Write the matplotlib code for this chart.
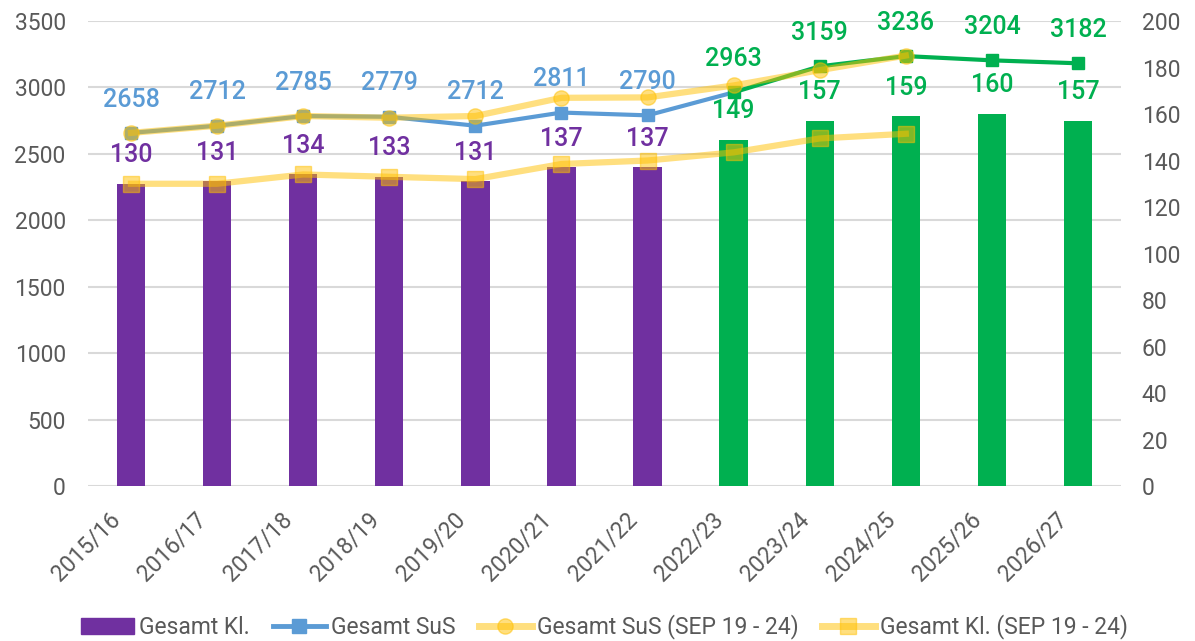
import numpy as np
import matplotlib.pyplot as plt
from matplotlib.patches import Patch
from matplotlib.lines import Line2D
from matplotlib.transforms import ScaledTranslation

plt.rcParams['font.family'] = ['Roboto', 'DejaVu Sans']

jahre = ["2015/16", "2016/17", "2017/18", "2018/19", "2019/20", "2020/21", "2021/22",
         "2022/23", "2023/24", "2024/25", "2025/26", "2026/27"]
klassen = [130, 131, 134, 133, 131, 137, 137, 149, 157, 159, 160, 157]
sus = [2658, 2712, 2785, 2779, 2712, 2811, 2790, 2963, 3159, 3236, 3204, 3182]
# SEP 19 - 24 (bis 2024/25)
sus_sep = [2658, 2712, 2785, 2772, 2785, 2922, 2925, 3015, 3130, 3240]
kl_sep = [130, 130, 134, 133, 132, 138.5, 140, 143.5, 149.5, 151.5]
n_ist = 7  # Ist-Werte bis 2021/22, danach Prognose

lila = "#7030A0"
gruen = "#00B050"
blau = "#5B9BD5"
gelb = "#FFC000"
grau = "#595959"

x = np.arange(len(jahre))

fig = plt.figure(figsize=(11.95, 6.41), dpi=100)
ax = fig.add_axes([0.0736, 0.2418, 0.8645, 0.7254])
ax_kl = ax.twinx()
ax_sus = ax.twinx()

for a in (ax, ax_kl, ax_sus):
    for s in a.spines.values():
        s.set_visible(False)
    a.set_xlim(-0.5, len(jahre) - 0.5)
    a.tick_params(length=0)

# linke Achse / Gitter
ax.set_ylim(0, 3500)
ax.set_yticks(np.arange(0, 3501, 500))
ax.grid(axis='y', color="#D9D9D9", linewidth=1.5)
ax.tick_params(axis='y', labelsize=16.5, labelcolor=grau, pad=16)
ax.set_xticks(x)
ax.set_xticklabels(jahre, rotation=45, ha='right', va='top',
                   fontsize=16.5, color=grau)
ax.tick_params(axis='x', pad=16)
verschieb = ScaledTranslation(-0.06, 0, fig.dpi_scale_trans)
for lbl in ax.get_xticklabels():
    lbl.set_transform(lbl.get_transform() + verschieb)

# rechte Achse: Klassen
ax_kl.set_ylim(0, 200)
ax_kl.set_yticks(np.arange(0, 201, 20))
ax_kl.tick_params(axis='y', labelsize=16.5, labelcolor=grau, pad=15)
farben = [lila] * n_ist + [gruen] * (len(jahre) - n_ist)
bars = ax_kl.bar(x, klassen, width=0.33, color=farben)
labels = ax_kl.bar_label(bars, padding=12, fontsize=18, fontweight='medium', color=lila)
for i, t in enumerate(labels):
    if i >= n_ist:
        t.set_color(gruen)
ax_kl.plot(x[:len(kl_sep)], kl_sep, color=gelb, alpha=0.5, linewidth=4.5,
           marker='s', markersize=11)

# SuS-Linien
ax_sus.set_ylim(0, 3500)
ax_sus.set_yticks([])
ax_sus.plot(x[:n_ist + 1], sus[:n_ist + 1], color=blau, linewidth=3,
            marker='s', markersize=9, markevery=list(range(n_ist)))
ax_sus.plot(x[n_ist:], sus[n_ist:], color=gruen, linewidth=3,
            marker='s', markersize=9)
ax_sus.plot(x[:len(sus_sep)], sus_sep, color=gelb, alpha=0.5, linewidth=4.5,
            marker='o', markersize=11)
for i, v in enumerate(sus):
    ax_sus.annotate(str(v), (x[i], v), xytext=(0, 24), textcoords='offset points',
                    ha='center', va='center', fontsize=18, fontweight='medium',
                    color=blau if i < n_ist else gruen)

handles = [
    Patch(color=lila, label="Gesamt Kl."),
    Line2D([], [], color=blau, linewidth=3.5, marker='s', markersize=10, label="Gesamt SuS"),
    Line2D([], [], color=gelb, alpha=0.5, linewidth=5, marker='o', markersize=11,
           label="Gesamt SuS (SEP 19 - 24)"),
    Line2D([], [], color=gelb, alpha=0.5, linewidth=5, marker='s', markersize=11,
           label="Gesamt Kl. (SEP 19 - 24)"),
]
fig.legend(handles=handles, loc='center', bbox_to_anchor=(0.506, 0.022), ncol=4,
           frameon=False, fontsize=16.5, labelcolor=grau, handlelength=2.3,
           handleheight=0.7, columnspacing=1.0, handletextpad=0.25)

fig.savefig("out.png", dpi=100)
